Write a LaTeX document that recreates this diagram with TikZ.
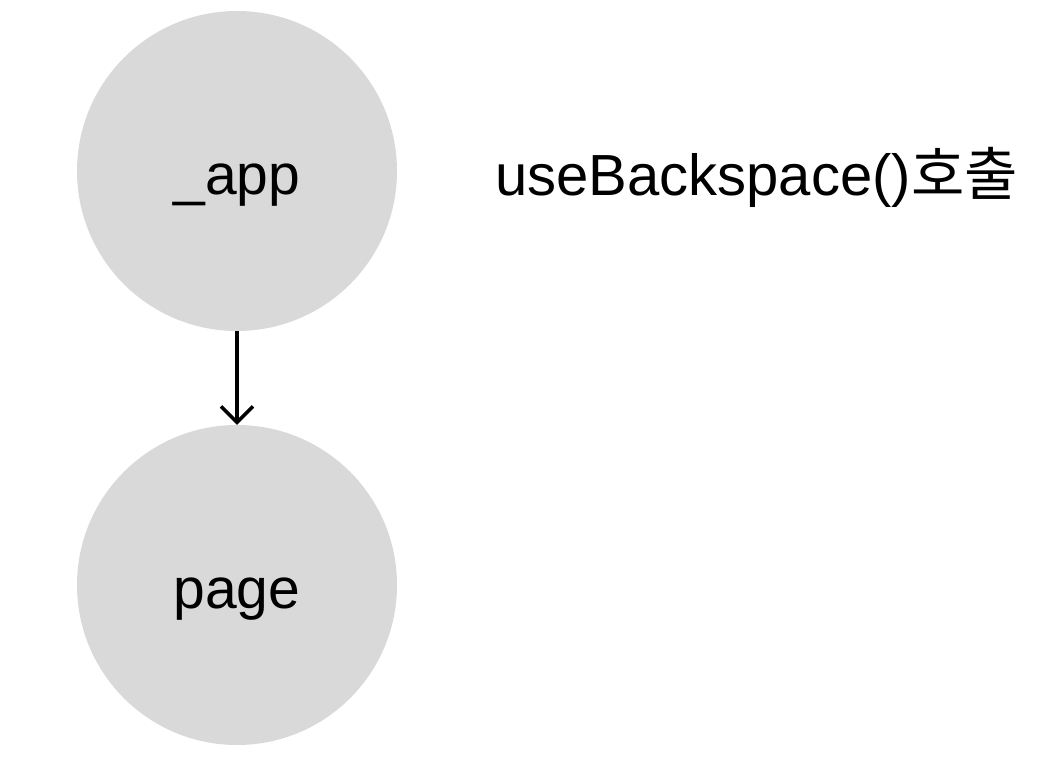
\documentclass[tikz,border=0pt]{standalone}
\usepackage{fontspec}
\setmainfont{Liberation Sans}
\newfontfamily\kofont{Noto Sans CJK KR}
\usetikzlibrary{arrows.meta}
\definecolor{nodegray}{HTML}{D9D9D9}
\tikzset{
  circnode/.style={circle, fill=nodegray, minimum size=320pt, inner sep=0pt,
    text height=56pt, text depth=10pt, font=\fontsize{57}{62}\selectfont},
  conn/.style={line width=3.5pt, -{Straight Barb[length=16pt, width=32pt, line width=3.5pt]}},
  lbl/.style={anchor=base west, inner sep=0pt, font=\fontsize{58}{64}\selectfont}
}
\begin{document}
\begin{tikzpicture}[x=1pt, y=-1pt]
\useasboundingbox (0,0) rectangle (1062,776);
\node[circnode] (app) at (237,171) {\symbol{95}app};
\node[circnode] (page) at (237,585) {page};
\draw[conn] (app.south) -- (page.north);
\node[lbl] (call) at (495,195) {useBackspace()\kofont 호출};
\end{tikzpicture}
\end{document}
